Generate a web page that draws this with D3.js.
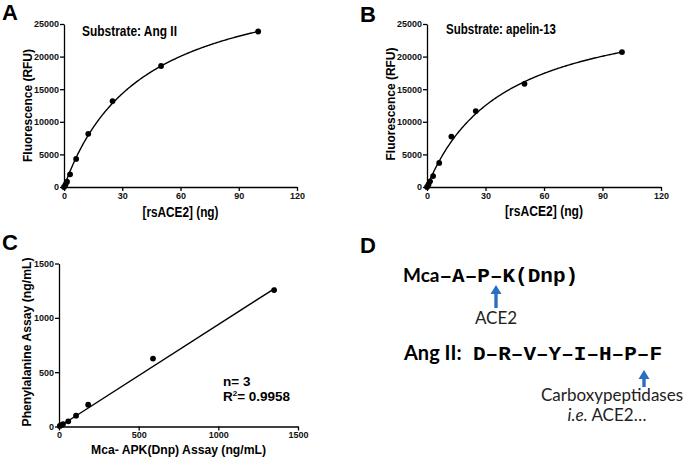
<!DOCTYPE html>
<html><head><meta charset="utf-8">
<script src="https://cdn.jsdelivr.net/npm/d3@7"></script>
<style>body{margin:0;background:#fff} svg{display:block}</style>
</head><body><svg id="c" width="685" height="459"></svg>
<script>
// ---- data ----
const doses = [0, 0.78, 1.56, 3.125, 6.25, 12.5, 25, 50, 100];
const angII = [0, 400, 820, 1950, 4300, 8150, 13180, 18560, 23850];
const apelin = [0, 400, 865, 1670, 3690, 7740, 11640, 15830, 20690];
const fitAngII = {vmax: 33400, km: 40};
const fitApelin = {vmax: 28750, km: 39};
const fluorTicks = [0, 5000, 10000, 15000, 20000, 25000];
const doseTicks = [0, 30, 60, 90, 120];
const mcaAssay = [5, 14, 25, 58, 107, 183, 590, 1350];
const pheAssay = [5, 12, 22, 48, 100, 200, 625, 1255];
const assayTicks = [0, 500, 1000, 1500];
const fitC = {slope: 0.94, intercept: -2, xmin: 0, xmax: 1360};
const statN = "n= 3";
const statR = "0.9958";

const svg = d3.select('#c');
const SANS = '"Liberation Sans", Arial, sans-serif';
const HUMAN = 'Lato, "Open Sans", sans-serif';
const MONO = '"Liberation Mono", "Courier New", monospace';

function panel(o){
  const g = svg.append('g');
  const x = d3.scaleLinear().domain(o.xdom).range([o.left, o.right]);
  const y = d3.scaleLinear().domain(o.ydom).range([o.bottom, o.top]);
  const fmt = d3.format('d');
  const ax = g.append('g').attr('transform', `translate(0,${o.bottom})`)
    .call(d3.axisBottom(x).tickValues(o.xticks).tickFormat(fmt).tickSize(4).tickSizeOuter(0).tickPadding(1.5));
  const ay = g.append('g').attr('transform', `translate(${o.left},0)`)
    .call(d3.axisLeft(y).tickValues(o.yticks).tickFormat(fmt).tickSize(4).tickSizeOuter(0).tickPadding(1));
  [ax, ay].forEach(a => {
    a.selectAll('path,line').attr('stroke', '#000').attr('stroke-width', 1.3);
    a.selectAll('text').attr('font-family', SANS).attr('font-weight', 'bold')
      .attr('font-size', 9).attr('fill', '#111');
  });
  // titles
  g.append('text').attr('x', (o.left + o.right) / 2).attr('y', o.xTitleY)
    .attr('text-anchor', 'middle').attr('font-family', SANS).attr('font-weight', 'bold')
    .attr('font-size', o.xTitleSize).attr('textLength', o.xTitleLen).attr('lengthAdjust', 'spacingAndGlyphs')
    .text(o.xTitle);
  g.append('text').attr('transform', `translate(${o.yTitleX},${o.yTitleMid}) rotate(-90)`)
    .attr('text-anchor', 'middle').attr('font-family', SANS).attr('font-weight', 'bold')
    .attr('font-size', 13.5).attr('textLength', o.yTitleLen).attr('lengthAdjust', 'spacingAndGlyphs')
    .text(o.yTitle);
  return {g, x, y};
}

function letter(t, x, y){
  svg.append('text').attr('x', x).attr('y', y).attr('font-family', SANS)
    .attr('font-weight', 'bold').attr('font-size', 22).text(t);
}

function mmPanel(o, vals, fit, subtitle, sx, sy, slen){
  const p = panel(o);
  const curve = d3.range(0, 100.01, 0.5).map(d => [d, fit.vmax * d / (fit.km + d)]);
  p.g.append('path').datum(curve)
    .attr('d', d3.line().x(d => p.x(d[0])).y(d => p.y(d[1])))
    .attr('fill', 'none').attr('stroke', '#000').attr('stroke-width', 1.4);
  p.g.selectAll('circle').data(doses).join('circle')
    .attr('cx', d => p.x(d)).attr('cy', (d, i) => p.y(vals[i])).attr('r', 2.9).attr('fill', '#000');
  p.g.append('text').attr('x', sx).attr('y', sy).attr('font-family', SANS)
    .attr('font-weight', 'bold').attr('font-size', 14.5)
    .attr('textLength', slen).attr('lengthAdjust', 'spacingAndGlyphs').text(subtitle);
}

// Panel A
mmPanel({left: 64, right: 297, top: 24, bottom: 187, xdom: [0, 120], ydom: [0, 25000],
  xticks: doseTicks, yticks: fluorTicks, xTitle: '[rsACE2] (ng)', xTitleY: 217, xTitleLen: 76, xTitleSize: 15,
  yTitle: 'Fluorescence (RFU)', yTitleX: 32, yTitleMid: 105.5, yTitleLen: 113},
  angII, fitAngII, 'Substrate: Ang II', 82, 36, 95);
letter('A', 2, 20);

// Panel B
mmPanel({left: 427, right: 661, top: 24, bottom: 187, xdom: [0, 120], ydom: [0, 25000],
  xticks: doseTicks, yticks: fluorTicks, xTitle: '[rsACE2] (ng)', xTitleY: 216, xTitleLen: 78, xTitleSize: 15,
  yTitle: 'Fluorescence (RFU)', yTitleX: 395, yTitleMid: 104, yTitleLen: 113},
  apelin, fitApelin, 'Substrate: apelin-13', 446, 34, 110);
letter('B', 360, 22);

// Panel C
const pc = panel({left: 59, right: 298, top: 263.5, bottom: 426.5, xdom: [0, 1500], ydom: [0, 1500],
  xticks: assayTicks, yticks: assayTicks, xTitle: 'Mca- APK(Dnp) Assay  (ng/mL)', xTitleY: 453.5, xTitleLen: 175, xTitleSize: 13.5,
  yTitle: 'Phenylalanine Assay  (ng/mL)', yTitleX: 31, yTitleMid: 342, yTitleLen: 169});
pc.g.append('line')
  .attr('x1', pc.x(fitC.xmin)).attr('y1', pc.y(fitC.slope * fitC.xmin + fitC.intercept))
  .attr('x2', pc.x(fitC.xmax)).attr('y2', pc.y(fitC.slope * fitC.xmax + fitC.intercept))
  .attr('stroke', '#000').attr('stroke-width', 1.4);
pc.g.selectAll('circle').data(mcaAssay).join('circle')
  .attr('cx', d => pc.x(d)).attr('cy', (d, i) => pc.y(pheAssay[i])).attr('r', 2.9).attr('fill', '#000');
pc.g.append('text').attr('x', 223).attr('y', 386).attr('font-family', SANS)
  .attr('font-weight', 'bold').attr('font-size', 13.5).text(statN);
const rt = pc.g.append('text').attr('x', 223).attr('y', 401).attr('font-family', SANS)
  .attr('font-weight', 'bold').attr('font-size', 13.5);
rt.append('tspan').text('R');
rt.append('tspan').attr('font-size', 8).attr('dy', -5).text('2');
rt.append('tspan').attr('dy', 5).text('= ' + statR);
letter('C', 2, 250);

// Panel D
letter('D', 360, 253);
const BLUE = '#2a6fc1';
const t1 = svg.append('text').attr('x', 403).attr('y', 282).attr('font-weight', 'bold');
t1.append('tspan').attr('font-family', HUMAN).attr('font-size', 19).text('Mca');
t1.append('tspan').attr('font-family', MONO).attr('font-size', 21).text('\u2013A\u2013P\u2013K(Dnp)');
svg.append('text').attr('x', 404).attr('y', 360).attr('font-weight', 'bold')
  .attr('font-family', HUMAN).attr('font-size', 20).text('Ang II:');
svg.append('text').attr('x', 473).attr('y', 360).attr('font-weight', 'bold')
  .attr('font-family', MONO).attr('font-size', 21).text('D\u2013R\u2013V\u2013Y\u2013I\u2013H\u2013P\u2013F');

function arrow(cx, tip, base){
  const hw = 5.5, hh = 9, sw = 1.7;
  svg.append('path').attr('fill', BLUE).attr('d',
    `M${cx},${tip} L${cx + hw},${tip + hh} L${cx + sw},${tip + hh} L${cx + sw},${base} L${cx - sw},${base} L${cx - sw},${tip + hh} L${cx - hw},${tip + hh} Z`);
}
arrow(496, 285, 308);
arrow(644, 370, 387);
svg.append('text').attr('x', 496).attr('y', 324).attr('text-anchor', 'middle')
  .attr('font-family', HUMAN).attr('font-size', 17).attr('fill', '#222').text('ACE2');
svg.append('text').attr('x', 612).attr('y', 401).attr('text-anchor', 'middle')
  .attr('font-family', HUMAN).attr('font-size', 17).attr('fill', '#222').text('Carboxypeptidases');
const t3 = svg.append('text').attr('x', 607).attr('y', 421).attr('text-anchor', 'middle')
  .attr('font-family', HUMAN).attr('font-size', 17).attr('fill', '#222');
t3.append('tspan').attr('font-style', 'italic').text('i.e.');
t3.append('tspan').text(' ACE2\u2026');
</script></body></html>
